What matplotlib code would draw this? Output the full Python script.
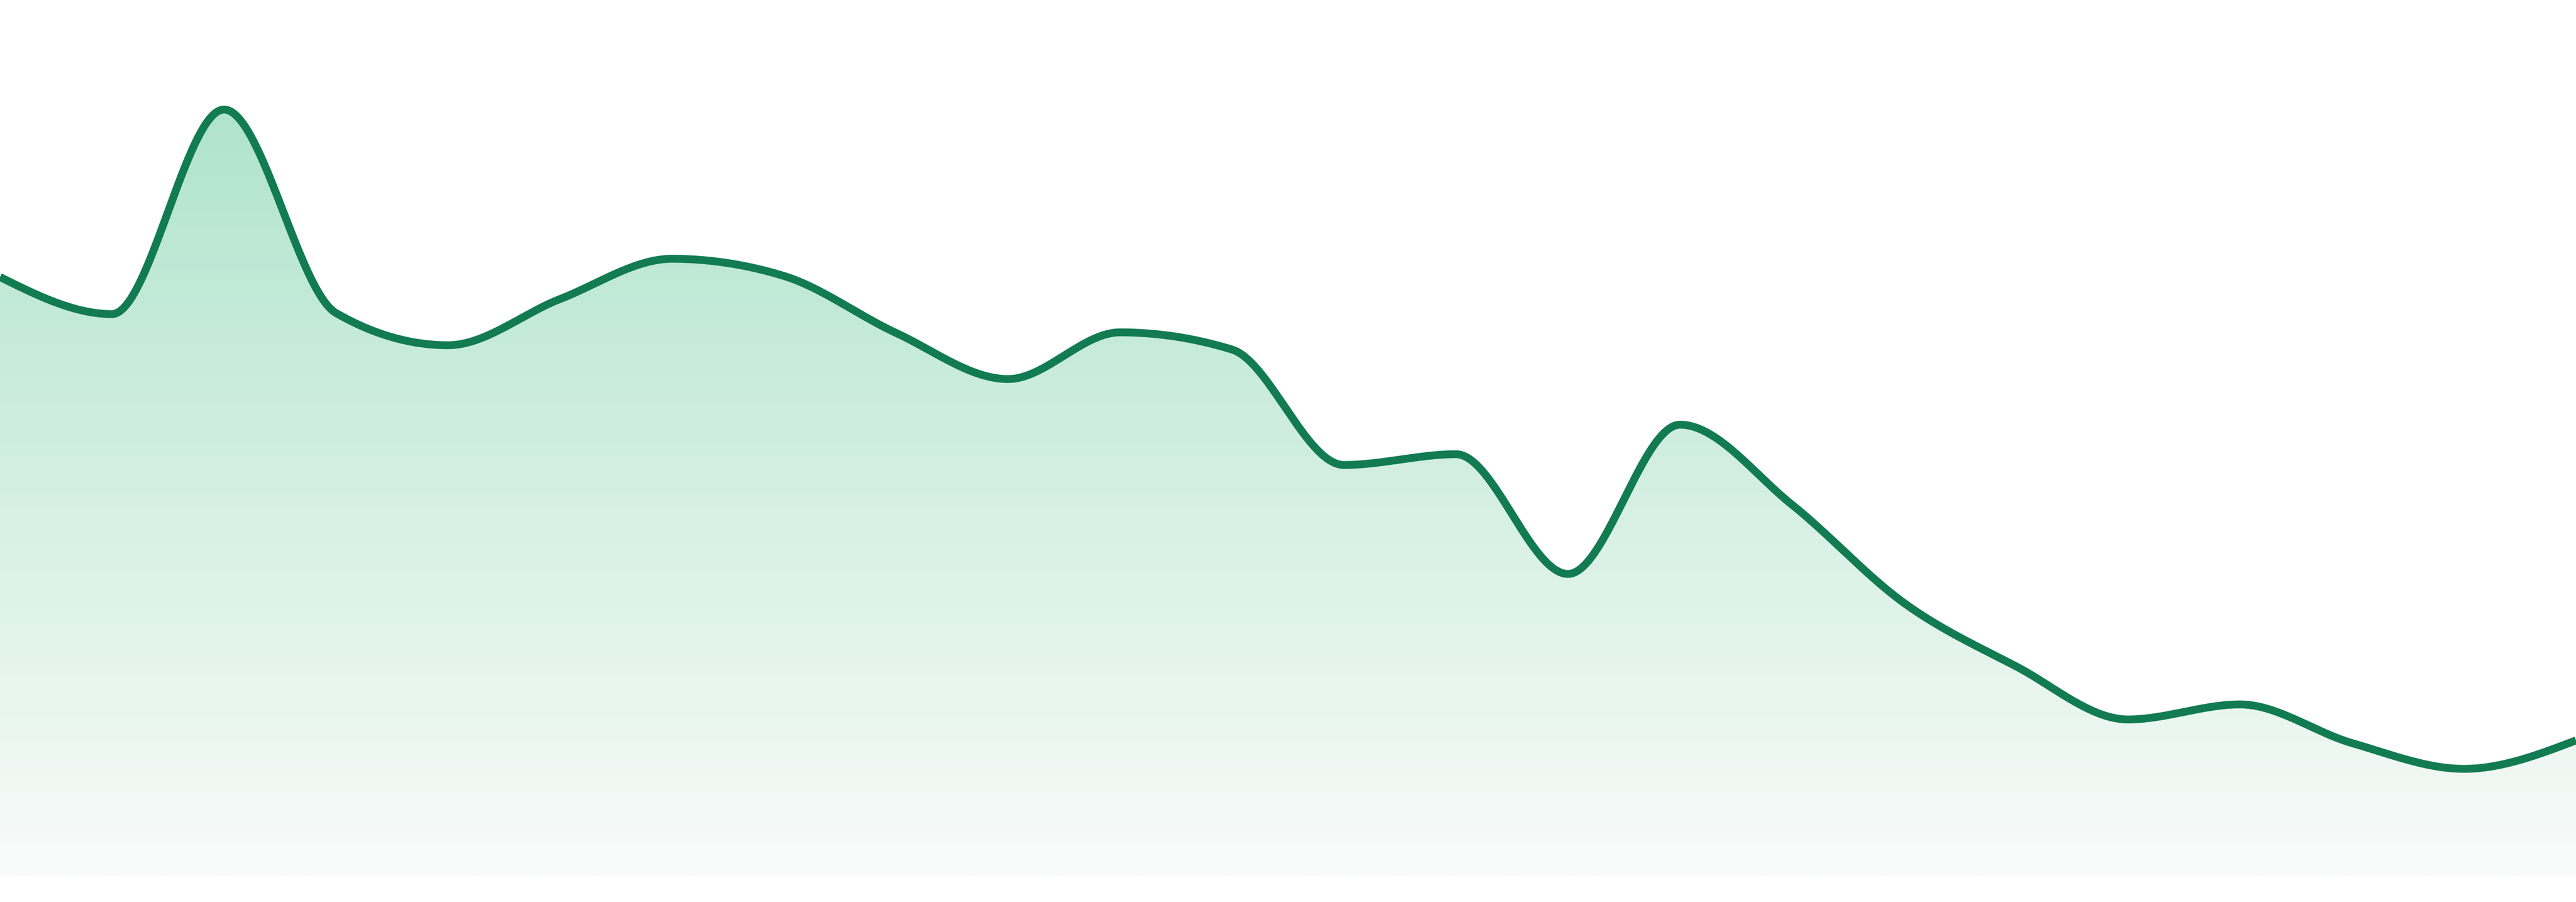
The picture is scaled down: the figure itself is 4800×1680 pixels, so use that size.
import numpy as np
import matplotlib
matplotlib.use("Agg")
import matplotlib.pyplot as plt
from matplotlib.colors import to_rgb

# values (24 evenly spaced samples)
idx = list(range(24))
values = [111.6, 104.7, 142.8, 104.9, 98.9, 107.5, 115.0, 111.8,
          101.2, 92.6, 101.3, 98.1, 76.6, 78.6, 56.3, 84.1,
          69.2, 50.9, 39.1, 29.2, 32.0, 24.8, 20.0, 25.3]

line_color = "#127b52"
fill_top = "#b0e4cc"
fill_bottom = "#f9fbfa"


def monotone_x(x, y, per_seg=60):
    # same idea as d3.curveMonotoneX: clamped tangents + cubic hermite
    x = np.asarray(x, float)
    y = np.asarray(y, float)
    n = len(x)
    h = np.diff(x)
    s = np.diff(y) / h
    t = np.zeros(n)
    for i in range(1, n - 1):
        p = (s[i - 1] * h[i] + s[i] * h[i - 1]) / (h[i - 1] + h[i])
        t[i] = (np.sign(s[i - 1]) + np.sign(s[i])) * min(abs(s[i - 1]), abs(s[i]), 0.5 * abs(p))
    t[0] = (3 * s[0] - t[1]) / 2
    t[-1] = (3 * s[-1] - t[-2]) / 2
    xs, ys = [], []
    u = np.linspace(0, 1, per_seg, endpoint=False)
    for i in range(n - 1):
        dx = h[i]
        p0 = np.array([x[i], y[i]])
        p1 = np.array([x[i] + dx / 3, y[i] + dx * t[i] / 3])
        p2 = np.array([x[i + 1] - dx / 3, y[i + 1] - dx * t[i + 1] / 3])
        p3 = np.array([x[i + 1], y[i + 1]])
        b = ((1 - u) ** 3)[:, None] * p0 + (3 * (1 - u) ** 2 * u)[:, None] * p1 \
            + (3 * (1 - u) * u ** 2)[:, None] * p2 + (u ** 3)[:, None] * p3
        xs.append(b[:, 0])
        ys.append(b[:, 1])
    xs.append([x[-1]])
    ys.append([y[-1]])
    return np.concatenate(xs), np.concatenate(ys)


cx, cy = monotone_x(idx, values)

fig = plt.figure(figsize=(16, 5.6), dpi=300)
ax = fig.add_axes([0, 0, 1, 1])
ax.set_xlim(0, 23)
ax.set_ylim(-4.8, 163.2)
ax.axis("off")

# gradient fill under the curve
top = max(values)
grad = np.linspace(0, 1, 256)[:, None]
c0 = np.array(to_rgb(fill_top))
c1 = np.array(to_rgb(fill_bottom))
img = c0[None, None, :] * (1 - grad[..., None]) + c1[None, None, :] * grad[..., None]
img = np.repeat(img, 2, axis=1)
poly = ax.fill_between(cx, 0, cy, color="none", lw=0)
im = ax.imshow(img, extent=[0, 23, 0, top], aspect="auto", origin="upper",
               interpolation="bilinear", zorder=1)
im.set_clip_path(poly.get_paths()[0], transform=ax.transData)

ax.plot(cx, cy, color=line_color, lw=3.5, solid_capstyle="butt", zorder=3)

fig.savefig("out.png", dpi=300, facecolor="white")
